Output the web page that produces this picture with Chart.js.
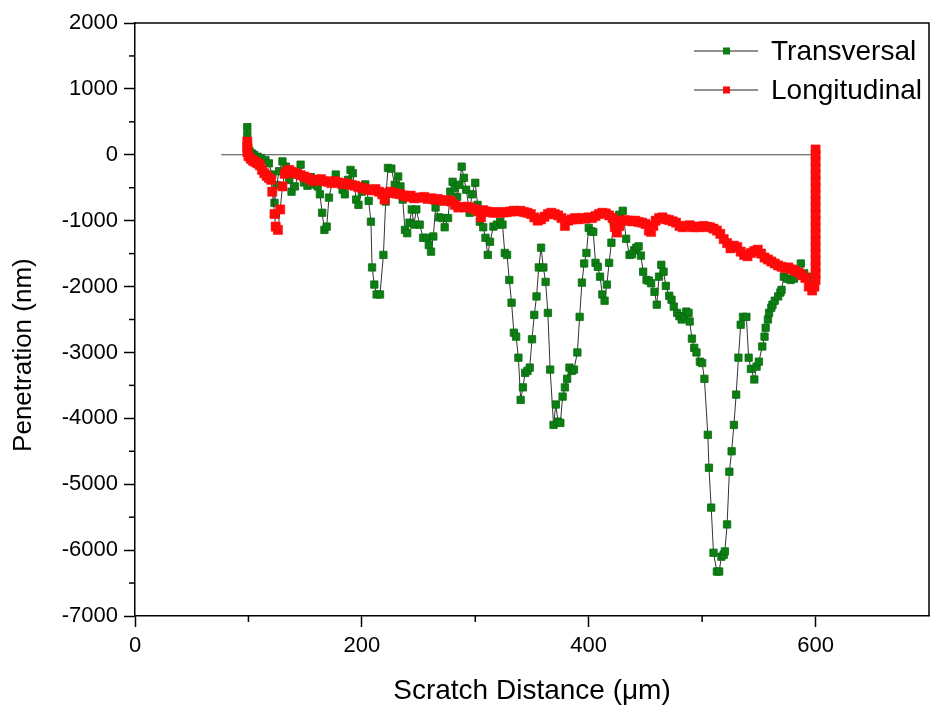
<!DOCTYPE html>
<html><head><meta charset="utf-8">
<script src="https://cdn.jsdelivr.net/npm/chart.js@4/dist/chart.umd.min.js"></script>
<style>html,body{margin:0;padding:0;background:#fff;}canvas{display:block;}</style>
</head><body>
<canvas id="c" width="936" height="709"></canvas>
<script>
const seriesLabels = ['Transversal', 'Longitudinal'];
const xTitle = 'Scratch Distance (\u03bcm)';
const yTitle = 'Penetration (nm)';

const transX = [99,99,99,100,101,103,105,108,111,115,118,121,123,125,127,130,133,136,138,141,144,146,149,152,155,158,161,163,165,167,169,171,174,177,180,183,185,188,190,192,195,197,200,203,206,208,209,211,213,216,219,221,223,226,229,232,234,236,238,240,242,244,246,248,251,254,257,259,261,263,265,268,271,273,276,278,280,282,284,286,288,290,292,295,297,300,302,304,307,309,311,313,316,319,322,324,326,328,330,332,334,336,338,340,342,344,346,348,350,352,354,356,358,360,362,364,366,369,371,373,375,377,379,381,383,385,387,390,392,394,396,398,400,402,404,406,408,410,412,414,416,418,420,422,425,427,430,433,436,438,440,442,444,446,448,451,453,455,458,460,462,464,466,468,471,473,475,478,480,482,484,486,488,489,491,493,495,498,500,502,505,506,508,510,513,515,517,519,520,522,524,526,528,530,532,534,536,539,541,543,546,548,550,553,555,556,558,559,561,562,564,567,569,570,572,575,578,581,584,587,590,593,596,599,600,600];
const transY = [420,300,180,90,50,20,0,-30,-50,-80,-130,-300,-730,-460,-250,-100,-180,-380,-560,-480,-300,-150,-420,-470,-340,-450,-480,-600,-880,-1140,-1090,-650,-420,-300,-420,-530,-600,-380,-230,-280,-680,-760,-560,-450,-700,-1015,-1710,-1970,-2120,-2120,-1520,-710,-200,-210,-455,-330,-480,-680,-1140,-1190,-1030,-830,-1060,-830,-1060,-1260,-1260,-1370,-1470,-1240,-800,-950,-960,-1100,-960,-560,-410,-500,-640,-455,-180,-350,-530,-880,-600,-425,-760,-1015,-1100,-1260,-1520,-1320,-1090,-1060,-1015,-1060,-1490,-1520,-1900,-2245,-2700,-2760,-3080,-3720,-3530,-3310,-3280,-3230,-2800,-2430,-2150,-1710,-1410,-1710,-1930,-2400,-3260,-4100,-3790,-4050,-4070,-3670,-3530,-3400,-3230,-3280,-3260,-3000,-2460,-1940,-1650,-1490,-1110,-1160,-1170,-1640,-1700,-1850,-2120,-2215,-1970,-1640,-1335,-1030,-950,-910,-850,-1275,-1520,-1510,-1450,-1410,-1390,-1530,-1775,-1900,-1910,-1950,-2080,-2275,-1850,-1670,-1775,-1990,-2140,-2200,-2305,-2400,-2450,-2500,-2450,-2380,-2400,-2530,-2790,-2930,-3000,-3140,-3160,-3400,-4250,-4750,-5355,-6040,-6325,-6325,-6100,-6070,-6020,-5610,-4810,-4500,-4100,-3640,-3080,-2580,-2460,-2460,-3080,-3250,-3410,-3215,-3140,-2910,-2760,-2625,-2500,-2400,-2320,-2275,-2215,-2150,-2090,-2050,-1850,-1880,-1900,-1880,-1780,-1650,-1800,-1850,-1900,-1940,-1900,-80];

const longX = [99,99,99,100,102,104,106,108,110,112,114,116,118,120,121,123,124,126,128,130,132,134,136,138,140,143,146,149,152,155,158,161,164,167,170,173,176,179,182,185,188,191,194,197,200,203,206,209,212,215,218,220,222,225,228,231,234,237,240,243,246,249,252,255,258,261,264,267,270,273,276,279,282,285,288,291,294,297,300,303,305,307,310,313,316,319,322,325,328,331,334,337,340,343,346,349,352,355,358,361,364,367,370,373,376,379,382,385,388,391,394,397,400,403,406,409,412,415,418,421,423,425,427,429,432,435,438,441,444,447,450,453,455,457,459,462,465,468,471,474,477,480,483,486,489,492,495,498,501,504,507,510,513,516,519,522,525,528,531,534,537,540,543,546,549,552,555,558,561,564,567,570,573,576,579,582,585,588,591,594,597,599,600,600,600,600,600,600,600,600,600,600,600,600,600,600,600,600,600,600,600,600,600];
const longY = [200,120,40,-20,-60,-90,-110,-130,-160,-230,-280,-320,-350,-380,-560,-900,-1090,-1140,-830,-480,-290,-250,-230,-260,-270,-290,-310,-330,-350,-380,-400,-380,-370,-400,-410,-430,-400,-420,-440,-430,-450,-460,-470,-490,-500,-520,-530,-540,-520,-560,-600,-680,-580,-560,-580,-590,-600,-620,-640,-620,-660,-650,-650,-640,-670,-660,-680,-670,-690,-700,-690,-710,-760,-800,-790,-800,-790,-810,-830,-860,-950,-840,-860,-870,-880,-870,-880,-875,-870,-860,-850,-860,-850,-870,-880,-900,-950,-1000,-980,-940,-900,-880,-900,-920,-960,-1080,-1000,-980,-960,-980,-960,-970,-950,-960,-930,-900,-880,-890,-920,-960,-1100,-1180,-1080,-1000,-990,-1000,-1010,-1000,-1020,-1030,-1050,-1150,-1170,-1080,-1000,-960,-950,-980,-990,-1010,-1030,-1080,-1100,-1080,-1070,-1100,-1090,-1100,-1080,-1090,-1100,-1120,-1150,-1200,-1280,-1340,-1420,-1380,-1400,-1470,-1520,-1540,-1490,-1460,-1440,-1500,-1560,-1590,-1620,-1650,-1680,-1700,-1720,-1710,-1740,-1760,-1790,-1830,-1870,-2000,-2060,-2000,-1900,-1800,-1700,-1600,-1500,-1400,-1300,-1200,-1100,-1000,-900,-800,-700,-600,-500,-400,-300,-200,-100,0,80];

const baseX = [76, 600];
const baseY = [0, 0];

const xTickValues = [0, 200, 400, 600];
const xMinorValues = [100, 300, 500];
const yTickValues = [2000, 1000, 0, -1000, -2000, -3000, -4000, -5000, -6000, -7000];
const yMinorValues = [1500, 500, -500, -1500, -2500, -3500, -4500, -5500, -6500];

const FONT = '"Liberation Sans", Arial, Helvetica, sans-serif';
const GREEN = '#0b7f12';
const RED = '#ff0a0a';
const pts = (xs, ys) => xs.map((x, i) => ({x: x, y: ys[i]}));

const framePlugin = {
  id: 'frameAndMinor',
  afterDraw(chart) {
    const ctx = chart.ctx, a = chart.chartArea, sx = chart.scales.x, sy = chart.scales.y;
    ctx.save();
    ctx.strokeStyle = '#000';
    ctx.lineWidth = 1.5;
    ctx.beginPath();
    ctx.moveTo(a.left, a.top); ctx.lineTo(a.right, a.top); ctx.lineTo(a.right, a.bottom);
    ctx.stroke();
    xMinorValues.forEach(v => {
      const px = sx.getPixelForValue(v);
      ctx.beginPath(); ctx.moveTo(px, a.bottom); ctx.lineTo(px, a.bottom + 6); ctx.stroke();
    });
    yMinorValues.forEach(v => {
      const py = sy.getPixelForValue(v);
      ctx.beginPath(); ctx.moveTo(a.left, py); ctx.lineTo(a.left - 6, py); ctx.stroke();
    });
    // y axis title
    ctx.save();
    ctx.translate(24, a.top + (a.bottom - a.top) * 0.56);
    ctx.rotate(-Math.PI / 2);
    ctx.font = '26px ' + FONT;
    ctx.fillStyle = '#000';
    ctx.textAlign = 'center';
    ctx.textBaseline = 'middle';
    ctx.fillText(yTitle, 0, 0);
    ctx.restore();
    // legend
    const items = [
      {label: seriesLabels[0], color: GREEN, y: a.top + 28},
      {label: seriesLabels[1], color: RED, y: a.top + 67}
    ];
    ctx.font = '28px ' + FONT;
    ctx.textBaseline = 'middle';
    ctx.textAlign = 'left';
    items.forEach(it => {
      ctx.strokeStyle = '#222'; ctx.lineWidth = 1;
      ctx.beginPath(); ctx.moveTo(a.right - 235, it.y); ctx.lineTo(a.right - 171, it.y); ctx.stroke();
      ctx.fillStyle = it.color;
      ctx.fillRect(a.right - 206, it.y - 3.5, 7, 7);
      ctx.fillStyle = '#000';
      ctx.fillText(it.label, a.right - 158, it.y + 1);
    });
    ctx.restore();
  }
};

new Chart(document.getElementById('c'), {
  type: 'scatter',
  data: {
    datasets: [
      {label: seriesLabels[0], data: pts(transX, transY), showLine: true, borderColor: '#333', borderWidth: 1,
       pointStyle: 'rect', pointRadius: 5.2, pointBackgroundColor: GREEN, pointBorderColor: '#0a6a10', pointBorderWidth: 0.8, order: 1},
      {label: seriesLabels[1], data: pts(longX, longY), showLine: true, borderColor: '#333', borderWidth: 1,
       pointStyle: 'rect', pointRadius: 6.5, pointBackgroundColor: RED, pointBorderColor: RED, pointBorderWidth: 0.5, order: 0},
      {label: 'base', data: pts(baseX, baseY), showLine: true, borderColor: '#444', borderWidth: 1, pointRadius: 0, order: 2}
    ]
  },
  options: {
    responsive: false,
    animation: false,
    layout: {padding: {top: 23, right: 3, left: 0, bottom: 0}},
    plugins: {legend: {display: false}, tooltip: {enabled: false}},
    scales: {
      x: {
        type: 'linear', min: 0, max: 700,
        afterBuildTicks: s => { s.ticks = xTickValues.map(v => ({value: v})); },
        afterFit: s => { s.height = 93; },
        ticks: {font: {size: 22, family: FONT}, color: '#000', padding: 6, maxRotation: 0, callback: v => String(v)},
        grid: {drawOnChartArea: false, tickLength: 11, tickWidth: 1.5, tickColor: '#000'},
        border: {color: '#000', width: 1.5},
        title: {display: true, text: xTitle, font: {size: 28, family: FONT}, color: '#000', padding: {top: 0, bottom: 1}}
      },
      y: {
        type: 'linear', min: -7000, max: 2000,
        afterBuildTicks: s => { s.ticks = yTickValues.map(v => ({value: v})); },
        afterFit: s => { s.width = 135; },
        ticks: {font: {size: 22, family: FONT}, color: '#000', padding: 6, callback: v => String(v)},
        grid: {drawOnChartArea: false, tickLength: 11, tickWidth: 1.5, tickColor: '#000'},
        border: {color: '#000', width: 1.5},
        title: {display: false}
      }
    }
  },
  plugins: [framePlugin]
});
</script>
</body></html>
